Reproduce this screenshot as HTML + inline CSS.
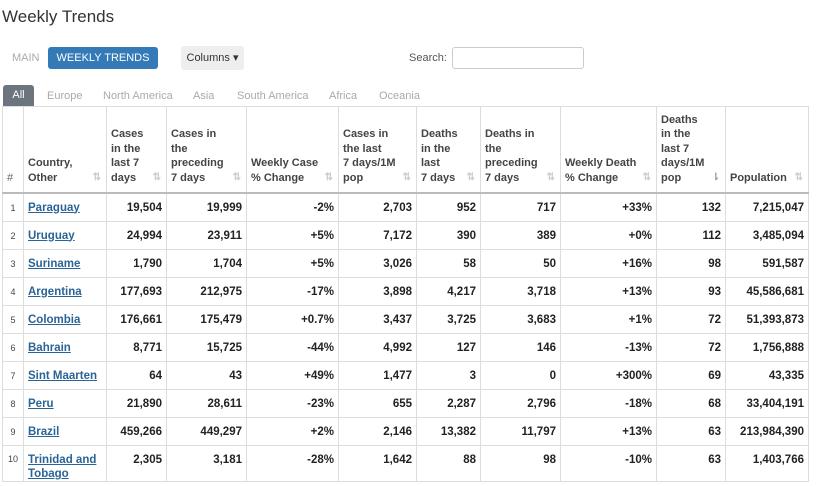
<!DOCTYPE html>
<html><head><style>
body{margin:0;width:822px;height:487px;overflow:hidden;background:#fff;font-family:"Liberation Sans",sans-serif;color:#333;position:relative}
.t{position:absolute;left:2px;top:7px;font-size:17px;color:#333}
.main{position:absolute;left:12px;top:52px;font-size:11px;color:#aaa}
.wt{position:absolute;left:48px;top:47px;width:110px;height:22px;background:#337ab7;border-radius:3px;color:#fff;font-size:11px;line-height:22px;text-align:center}
.col{position:absolute;left:181px;top:46px;width:63px;height:24px;background:#eee;border-radius:3px;font-size:11px;line-height:24px;text-align:center;color:#333}
.srch{position:absolute;left:409px;top:52px;font-size:11px;color:#555}
.box{position:absolute;left:452px;top:47px;width:130px;height:20px;border:1px solid #ccc;border-radius:3px}
.all{position:absolute;left:3px;top:85px;width:31px;height:21px;background:#6c757d;border-radius:3px 3px 0 0;color:#fff;font-size:11px;line-height:21px;text-align:center}
.tab{position:absolute;top:90px;font-size:11px;color:#aaa}
table{position:absolute;left:2px;top:106px;border-collapse:collapse;table-layout:fixed;font-size:11px}
th,td{border:1px solid #ddd;padding:0 4px}
th{font-weight:bold;color:#444;text-align:left;vertical-align:bottom;padding-bottom:7px;line-height:14.5px;height:78px;border-bottom:2px solid #bbb;position:relative}
th .s{position:absolute;right:5px;bottom:7px;color:#ccc;font-size:10px}
td{height:27px;font-weight:bold;font-size:11.5px;text-align:right;color:#222}
td.n{font-size:9px;font-weight:normal;text-align:center;color:#444}
td.c{text-align:left}
td.c a{color:#2a6496;text-decoration:underline}
tr.l td{vertical-align:top;padding-top:8px}
tr.l td.c{line-height:14px;padding-top:7px}
</style></head><body>
<div class="t">Weekly Trends</div>
<div class="main">MAIN</div>
<div class="wt">WEEKLY TRENDS</div>
<div class="col">Columns ▾</div>
<div class="srch">Search:</div><div class="box"></div>
<div class="all">All</div>
<div class="tab" style="left:47px">Europe</div>
<div class="tab" style="left:103px">North America</div>
<div class="tab" style="left:193px">Asia</div>
<div class="tab" style="left:237px">South America</div>
<div class="tab" style="left:329px">Africa</div>
<div class="tab" style="left:379px">Oceania</div>
<table>
<colgroup><col style="width:21px"><col style="width:83px"><col style="width:60px"><col style="width:80px"><col style="width:92px"><col style="width:78px"><col style="width:64px"><col style="width:80px"><col style="width:96px"><col style="width:69px"><col style="width:83px"></colgroup>
<tr><th style="font-weight:normal;color:#666">#</th><th>Country,<br>Other<span class="s">⇅</span></th><th>Cases<br>in the<br>last 7<br>days<span class="s">⇅</span></th><th>Cases in<br>the<br>preceding<br>7 days<span class="s">⇅</span></th><th>Weekly Case<br>% Change<span class="s">⇅</span></th><th>Cases in<br>the last<br>7 days/1M<br>pop<span class="s">⇅</span></th><th>Deaths<br>in the<br>last<br>7 days<span class="s">⇅</span></th><th>Deaths in<br>the<br>preceding<br>7 days<span class="s">⇅</span></th><th>Weekly Death<br>% Change<span class="s">⇅</span></th><th>Deaths<br>in the<br>last 7<br>days/1M<br>pop<span class="s" style="color:#999">⇂</span></th><th>Population<span class="s">⇅</span></th></tr>
<tr><td class="n">1</td><td class="c"><a>Paraguay</a></td><td>19,504</td><td>19,999</td><td>-2%</td><td>2,703</td><td>952</td><td>717</td><td>+33%</td><td>132</td><td>7,215,047</td></tr>
<tr><td class="n">2</td><td class="c"><a>Uruguay</a></td><td>24,994</td><td>23,911</td><td>+5%</td><td>7,172</td><td>390</td><td>389</td><td>+0%</td><td>112</td><td>3,485,094</td></tr>
<tr><td class="n">3</td><td class="c"><a>Suriname</a></td><td>1,790</td><td>1,704</td><td>+5%</td><td>3,026</td><td>58</td><td>50</td><td>+16%</td><td>98</td><td>591,587</td></tr>
<tr><td class="n">4</td><td class="c"><a>Argentina</a></td><td>177,693</td><td>212,975</td><td>-17%</td><td>3,898</td><td>4,217</td><td>3,718</td><td>+13%</td><td>93</td><td>45,586,681</td></tr>
<tr><td class="n">5</td><td class="c"><a>Colombia</a></td><td>176,661</td><td>175,479</td><td>+0.7%</td><td>3,437</td><td>3,725</td><td>3,683</td><td>+1%</td><td>72</td><td>51,393,873</td></tr>
<tr><td class="n">6</td><td class="c"><a>Bahrain</a></td><td>8,771</td><td>15,725</td><td>-44%</td><td>4,992</td><td>127</td><td>146</td><td>-13%</td><td>72</td><td>1,756,888</td></tr>
<tr><td class="n">7</td><td class="c"><a>Sint Maarten</a></td><td>64</td><td>43</td><td>+49%</td><td>1,477</td><td>3</td><td>0</td><td>+300%</td><td>69</td><td>43,335</td></tr>
<tr><td class="n">8</td><td class="c"><a>Peru</a></td><td>21,890</td><td>28,611</td><td>-23%</td><td>655</td><td>2,287</td><td>2,796</td><td>-18%</td><td>68</td><td>33,404,191</td></tr>
<tr><td class="n">9</td><td class="c"><a>Brazil</a></td><td>459,266</td><td>449,297</td><td>+2%</td><td>2,146</td><td>13,382</td><td>11,797</td><td>+13%</td><td>63</td><td>213,984,390</td></tr>
<tr class="l"><td class="n">10</td><td class="c"><a>Trinidad and<br>Tobago</a></td><td>2,305</td><td>3,181</td><td>-28%</td><td>1,642</td><td>88</td><td>98</td><td>-10%</td><td>63</td><td>1,403,766</td></tr>
</table>
</body></html>
